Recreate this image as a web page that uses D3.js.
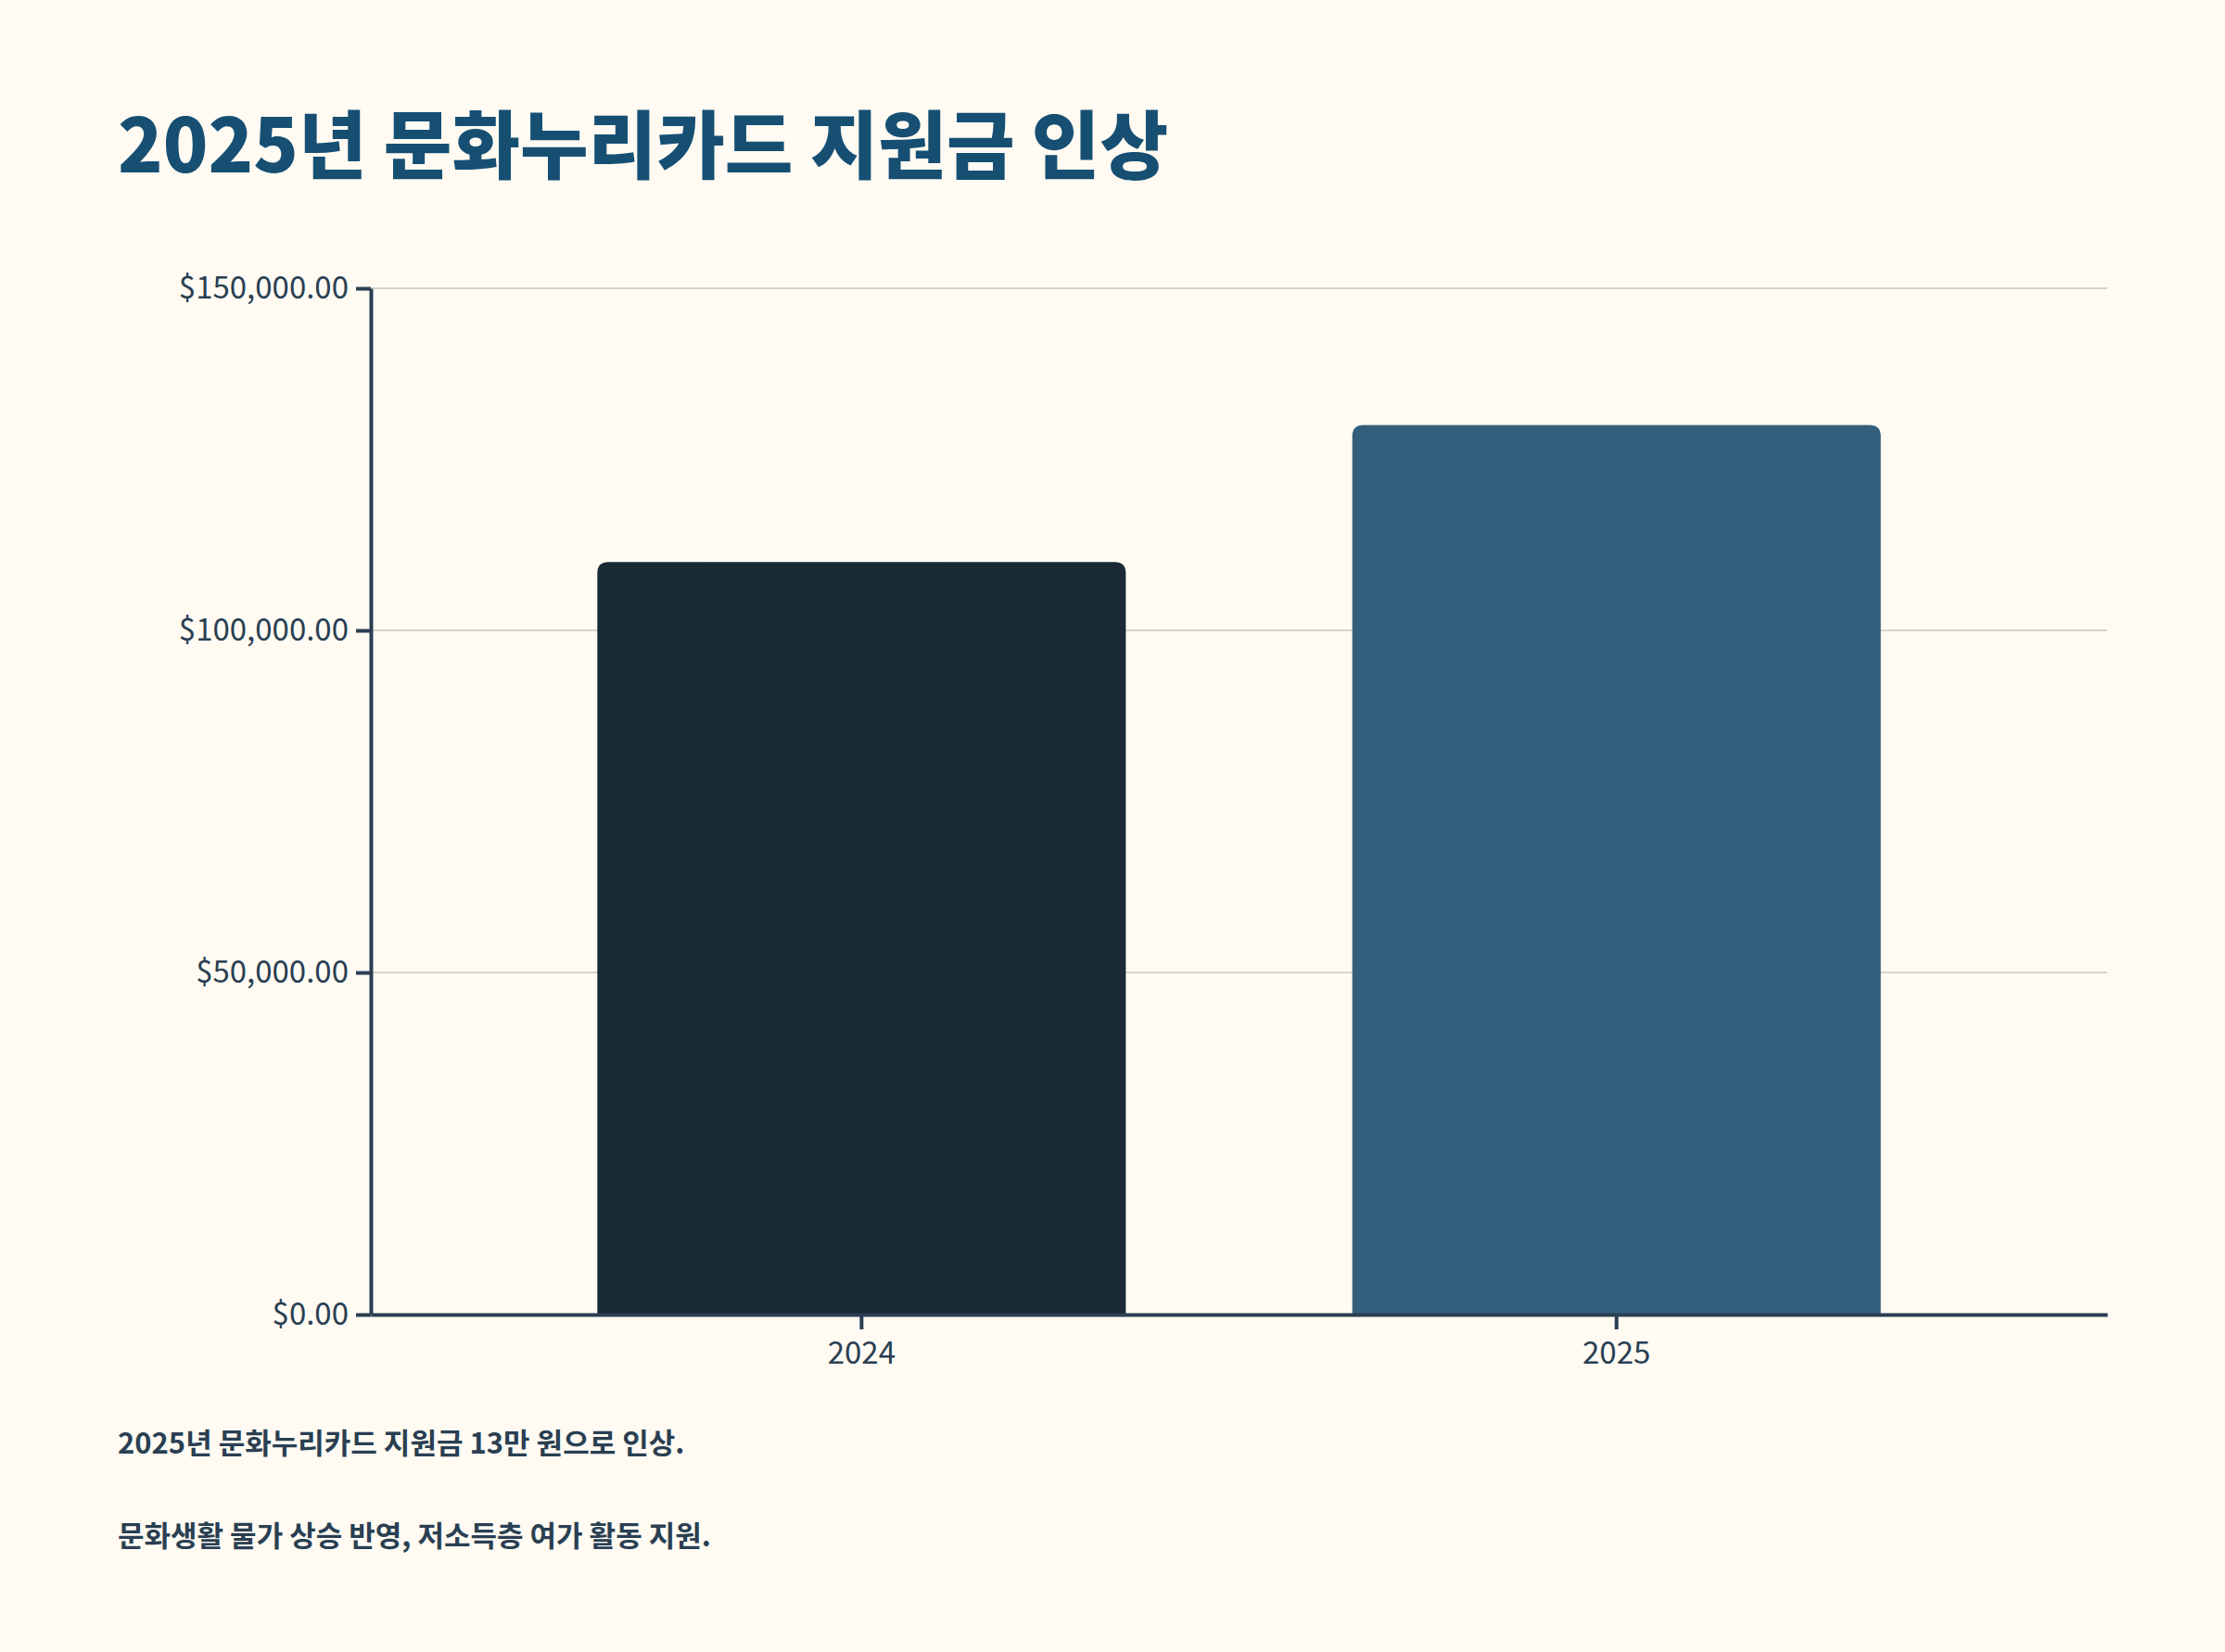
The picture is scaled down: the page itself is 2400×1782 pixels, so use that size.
<!DOCTYPE html>
<html>
<head>
<meta charset="utf-8">
<script src="https://cdn.jsdelivr.net/npm/d3@7"></script>
<style>
  body { margin: 0; background: #fffbf3; }
  svg { display: block; font-family: "Noto Sans CJK KR", "Noto Sans", sans-serif; }
</style>
</head>
<body>
<svg width="2400" height="1782"></svg>
<script>
var years = ['2024', '2025'];
var amounts = [110000, 130000];
var barColors = ['#192a35', '#335f7d'];
var yTicks = [0, 50000, 100000, 150000];
var notes = ['2025년 문화누리카드 지원금 13만 원으로 인상.', '문화생활 물가 상승 반영, 저소득층 여가 활동 지원.'];

var svg = d3.select('svg');
var margin = { left: 400, right: 2273, top: 311, bottom: 1418 };

svg.append('rect').attr('width', 2400).attr('height', 1782).attr('fill', '#fffbf3');

svg.append('text')
  .attr('x', 127).attr('y', 186)
  .attr('font-size', 80).attr('font-weight', 900)
  .attr('fill', '#174f73')
  .text('2025년 문화누리카드 지원금 인상');

var x = d3.scaleBand().domain(years).range([margin.left, margin.right]).paddingInner(0.3).paddingOuter(0.3);
var y = d3.scaleLinear().domain([0, 150000]).range([margin.bottom, margin.top]);

// grid
svg.append('g').selectAll('line').data(yTicks.slice(1)).join('line')
  .attr('x1', margin.left).attr('x2', margin.right)
  .attr('y1', function (d) { return y(d); }).attr('y2', function (d) { return y(d); })
  .attr('stroke', '#d4d4d0').attr('stroke-width', 2);

// bars with rounded top
svg.append('g').selectAll('path').data(amounts).join('path')
  .attr('fill', function (d, i) { return barColors[i]; })
  .attr('d', function (d, i) {
    var x0 = x(years[i]), w = x.bandwidth(), t = y(d), b = y(0), r = 12;
    return 'M' + x0 + ',' + b + 'V' + (t + r) + 'Q' + x0 + ',' + t + ' ' + (x0 + r) + ',' + t +
      'H' + (x0 + w - r) + 'Q' + (x0 + w) + ',' + t + ' ' + (x0 + w) + ',' + (t + r) + 'V' + b + 'Z';
  });

var yAxis = svg.append('g')
  .attr('transform', 'translate(' + margin.left + ',0)')
  .call(d3.axisLeft(y).tickValues(yTicks).tickSize(16).tickSizeOuter(0)
    .tickFormat(function (d) { return '$' + d3.format(',.2f')(d); }));

var xAxis = svg.append('g')
  .attr('transform', 'translate(0,' + margin.bottom + ')')
  .call(d3.axisBottom(x).tickSize(16).tickSizeOuter(0));

[yAxis, xAxis].forEach(function (g) {
  g.selectAll('path, line').attr('stroke', '#2a3f52').attr('stroke-width', 4);
  g.selectAll('text').attr('font-size', 33).attr('fill', '#2a3f52')
    .attr('font-family', '"Noto Sans CJK KR", sans-serif');
});
yAxis.selectAll('text').attr('x', -24);
xAxis.selectAll('text').attr('y', 30);

svg.append('g').selectAll('text').data(notes).join('text')
  .attr('x', 127).attr('y', function (d, i) { return 1568 + i * 100; })
  .attr('font-size', 31).attr('font-weight', 700).attr('fill', '#2a3f52')
  .text(function (d) { return d; });
</script>
</body>
</html>
